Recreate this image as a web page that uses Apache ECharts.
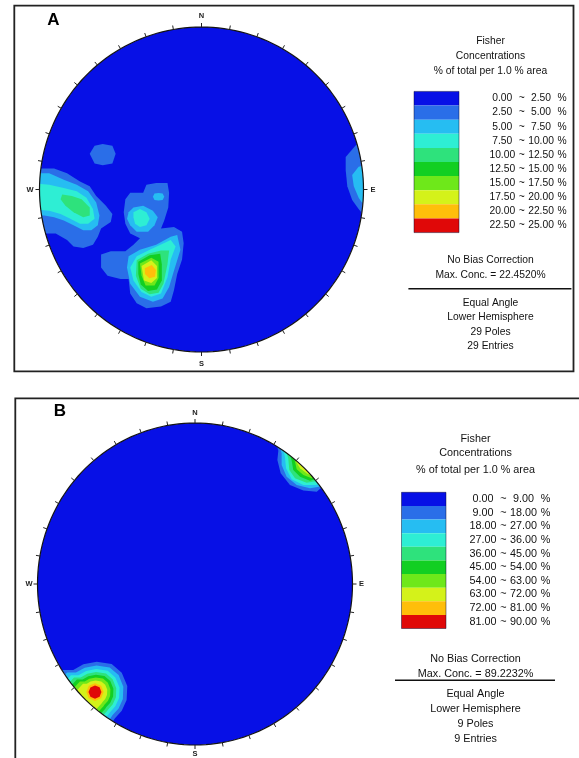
<!DOCTYPE html>
<html><head><meta charset="utf-8">
<script src="https://cdn.jsdelivr.net/npm/echarts@6/dist/echarts.min.js"></script>
<style>html,body{margin:0;padding:0;background:#fff}#c{width:579px;height:758px}</style>
</head><body><div id="c"></div>
<script>
// ---------------- data (coordinates in % of the net radius: x = east, y = north) ----------------
const breaksA = [0, 2.5, 5, 7.5, 10, 12.5, 15, 17.5, 20, 22.5, 25];
const breaksB = [0, 9, 18, 27, 36, 45, 54, 63, 72, 81, 90];
const levelColors = ['#0710e6', '#2a6ee8', '#26bdf2', '#2eeed4', '#2ee27c', '#12cf22', '#6ee81a', '#d4f21a', '#ffbe0a', '#e00808'];
const compass = ['N', 'E', 'S', 'W'];

// Panel A contours
const aWest2 = [[-106,13],[-91,13],[-83,10],[-75,5],[-69,2],[-65,-4],[-59,-10],[-55,-15],[-56,-20],[-62,-24],[-64,-29],[-67,-34],[-73,-36],[-79,-35],[-83,-31],[-90,-27],[-96,-27],[-106,-27]];
const aWest3 = [[-106,10],[-94,10],[-85,6],[-77,3],[-70,-1],[-65,-8],[-63,-16],[-64,-22],[-68,-25],[-73,-25],[-79,-22],[-85,-19],[-91,-17],[-97,-16],[-106,-16]];
const aWest4 = [[-106,4],[-94,3],[-85,1],[-77,-1],[-71,-5],[-67,-12],[-66,-18],[-70,-21],[-75,-21],[-81,-18],[-87,-15],[-94,-13],[-106,-12]];
const aWest5 = [[-86,-3],[-80,-4],[-74,-6],[-69,-11],[-69,-16],[-73,-17],[-79,-14],[-84,-10],[-87,-6]];
const aNorth2 = [[-69,22],[-66,27],[-61,28],[-55,27],[-53,22],[-55,16],[-61,15],[-66,16]];
const aCenter2 = [[-47,-6],[-44,-2],[-36,-2],[-34,3],[-28,4],[-21,4],[-20,-2],[-20.5,-11],[-23,-19],[-25,-24],[-17,-23],[-12,-26],[-11,-33],[-12,-43],[-15,-52],[-17,-62],[-19,-69],[-25,-72],[-34,-73],[-40,-70],[-44,-64],[-45,-55],[-50,-55],[-58,-53],[-62,-48],[-62,-40],[-56,-38],[-47,-38],[-42,-34],[-38,-30],[-44,-27],[-47,-21],[-48,-14]];
const aCenterUp3 = [[-45,-14],[-42,-11],[-36,-10],[-30,-13],[-27,-17],[-29,-22],[-33,-26],[-40,-26],[-44,-22],[-46,-18]];
const aCenterUp4 = [[-42,-14],[-38,-12],[-34,-14],[-32,-18],[-34,-22],[-38,-23],[-41,-21],[-42,-17]];
const aDot3 = [[-30,-4.5],[-29,-2.5],[-26.5,-2.2],[-24,-2.5],[-23,-4.5],[-24,-6.5],[-26.5,-6.7],[-29,-6.5]];
const aLow3 = [[-15,-28],[-13,-37],[-17,-50],[-20,-60],[-24,-67],[-30,-69],[-38,-66],[-44,-58],[-46,-48],[-45,-41],[-38,-37],[-28,-34],[-19,-29]];
const aLow4 = [[-40,-41],[-32,-37],[-19,-31],[-16,-35],[-19,-43],[-21,-54],[-25,-64],[-31,-66],[-37,-63],[-42,-56],[-44,-48]];
const aLow5 = [[-40,-43.5],[-33,-39.5],[-25,-37.5],[-20,-37.5],[-21,-46],[-23.5,-58],[-26.5,-63.5],[-32,-64.5],[-37.5,-61],[-40.5,-53]];
const aLow6 = [[-39,-44.5],[-32,-40.5],[-25.5,-39.5],[-24.5,-46],[-24.5,-56],[-27.5,-61.5],[-33,-62.5],[-37.5,-58.5],[-39,-52]];
const aLow7 = [[-38,-45.5],[-31,-42],[-26.5,-44.5],[-26.5,-54.5],[-29,-59],[-34.5,-59],[-37,-53]];
const aLow8 = [[-37,-47],[-31,-43.5],[-27.5,-47],[-27.5,-54.5],[-31,-57.5],[-35.5,-56]];
const aLow9 = [[-35,-48.5],[-30.7,-46.5],[-28.1,-49.5],[-28.7,-53.7],[-32.2,-54.6],[-34.9,-52]];
const aEast2 = [[104,34],[98,30.5],[95,27],[89,20],[89,12],[90,2],[93,-6.5],[97,-12],[99,-14.5],[105,-16]];
const aEast3 = [[105,17],[99,14.5],[97,14],[93,9],[94,2],[97,-5],[99,-8],[105,-9]];

// Panel B contours
const bSW2 = [[-88.9,-54.7],[-83.6,-53.4],[-77.3,-53.4],[-70.9,-49.9],[-62.4,-48.3],[-52.9,-49.7],[-46.5,-55.1],[-43.0,-63.4],[-43.4,-72.0],[-46.5,-78.7],[-50.8,-83.4],[-52.3,-85.5],[-52.7,-91.9],[-73.0,-79.5],[-87.0,-65.8]];
const bSW3 = [[-81.2,-55.0],[-75.6,-55.0],[-70.0,-52.0],[-62.5,-50.6],[-54.2,-51.8],[-48.5,-56.5],[-45.5,-63.8],[-45.8,-71.4],[-48.5,-77.3],[-52.3,-81.4],[-53.6,-83.3],[-60.5,-90.6],[-88.1,-62.3]];
const bSW4 = [[-78.8,-56.7],[-74.0,-56.7],[-69.1,-54.0],[-62.7,-52.8],[-55.4,-53.9],[-50.6,-58.0],[-47.9,-64.3],[-48.2,-70.8],[-50.6,-75.9],[-53.8,-79.5],[-55.0,-81.1],[-61.9,-88.4],[-85.7,-64.0]];
const bSW5 = [[-76.8,-58.1],[-72.6,-58.1],[-68.4,-55.7],[-62.8,-54.7],[-56.5,-55.6],[-52.3,-59.2],[-50.0,-64.7],[-50.2,-70.3],[-52.3,-74.8],[-55.1,-77.9],[-56.1,-79.2],[-63.0,-86.5],[-83.7,-65.4]];
const bSW6 = [[-75.0,-59.3],[-71.4,-59.3],[-67.7,-57.3],[-62.9,-56.4],[-57.5,-57.2],[-53.8,-60.3],[-51.8,-65.0],[-52.0,-69.9],[-53.8,-73.7],[-56.3,-76.4],[-57.1,-77.6],[-64.0,-84.9],[-81.9,-66.6]];
const bSW7 = [[-73.1,-60.5],[-70.1,-60.5],[-67.1,-58.8],[-63.0,-58.1],[-58.4,-58.7],[-55.3,-61.3],[-53.7,-65.3],[-53.9,-69.5],[-55.3,-72.7],[-57.4,-74.9],[-58.1,-75.9],[-65.0,-83.2],[-80.0,-67.8]];
const bSW8 = [[-71.1,-61.9],[-68.7,-61.9],[-66.3,-60.6],[-63.1,-60.0],[-59.5,-60.5],[-57.0,-62.5],[-55.7,-65.7],[-55.9,-69.0],[-57.0,-71.5],[-58.7,-73.3],[-59.2,-74.1],[-66.1,-81.4],[-78.0,-69.2]];
const bSW9 = [[-69,-67.1],[-67.4,-63.2],[-63.5,-61.6],[-59.6,-63.2],[-58,-67.1],[-59.6,-71],[-63.5,-72.6],[-67.4,-71]];
const bSW10 = [[-67.6,-67.1],[-66.4,-64.3],[-63.5,-63.0],[-60.6,-64.2],[-59.4,-67.1],[-60.6,-70.0],[-63.5,-71.2],[-66.4,-70.0]];
const bNE2 = [[51.6,87.4],[52.9,82.8],[52.3,77.0],[54.4,68.8],[60.3,61.5],[68.8,58.0],[77.3,57.3],[79.8,59.4],[87,63],[73,83],[57,92]];
const bNE3 = [[53.7,85.7],[55.0,81.2],[55.0,73.9],[58.2,66.6],[64.6,61.5],[73.0,59.4],[78.9,60.4],[80,61.5],[87,65],[73,83],[58,91]];
const bNE4 = [[55.9,83.9],[57.1,79.1],[57.8,71.9],[61.4,65.0],[68.8,61.5],[77.3,61.5],[78.4,63.4],[85,68],[73,83],[60,89]];
const bNE5 = [[57.8,82.6],[59.2,78.1],[59.9,70.8],[63.5,65.7],[70.9,62.9],[76.5,63.8],[84,69],[73,83],[61,87]];
const bNE6 = [[59.7,81.7],[61.3,77.0],[62.4,70.8],[66.7,66.6],[73.0,64.2],[76,65],[82,70],[73,83],[63,86]];
const bNE7 = [[62.2,80.7],[63.5,76.0],[64.6,71.2],[68.8,67.7],[74.1,65.7],[75.5,66],[80,71],[74,82],[65,85]];
const bNE8 = [[63.8,79.2],[64.6,75.3],[66.7,71.9],[70.9,68.8],[74.1,67.1],[79,72],[74,81],[67,83]];

// text
const legendTitle = ['Fisher', 'Concentrations', '% of total per 1.0 % area'];
const notesA = ['No Bias Correction', 'Max. Conc. = 22.4520%'];
const infoA = ['Equal Angle', 'Lower Hemisphere', '29 Poles', '29 Entries'];
const notesB = ['No Bias Correction', 'Max. Conc. = 89.2232%'];
const infoB = ['Equal Angle', 'Lower Hemisphere', '9 Poles', '9 Entries'];

// [level, polygon]
const contoursA = [
  [2, aWest2], [2, aNorth2], [2, aCenter2], [2, aEast2],
  [3, aWest3], [3, aCenterUp3], [3, aDot3], [3, aLow3], [3, aEast3],
  [4, aWest4], [4, aCenterUp4], [4, aLow4],
  [5, aWest5], [5, aLow5],
  [6, aLow6], [7, aLow7], [8, aLow8], [9, aLow9]
];
const contoursB = [
  [2, bSW2], [2, bNE2], [3, bSW3], [3, bNE3], [4, bSW4], [4, bNE4],
  [5, bSW5], [5, bNE5], [6, bSW6], [6, bNE6], [7, bSW7], [7, bNE7],
  [8, bSW8], [8, bNE8], [9, bSW9], [10, bSW10]
];

// ---------------- rendering ----------------
const FONT = '"Liberation Sans", Arial, sans-serif';
const chart = echarts.init(document.getElementById('c'), null, {renderer: 'canvas', width: 579, height: 758});

function rad(a) { return a * Math.PI / 180; }

function diskItem(color) {
  return function (params, api) {
    const pts = [];
    for (let a = 0; a < 360; a += 2) pts.push(api.coord([100 * Math.cos(rad(a)), 100 * Math.sin(rad(a))]));
    return {type: 'polygon', shape: {points: pts}, style: {fill: color}};
  };
}
function contourItem(list) {
  return function (params, api) {
    const pts = list[params.dataIndex][1].map(p => api.coord(p));
    return {type: 'polygon', z2: params.dataIndex, shape: {points: pts}, style: {fill: api.visual('color')}};
  };
}
function overlayItem(off) {
  return function (params, api) {
    const ch = [];
    const ring = [];
    for (let a = 90; a <= 450; a += 2) ring.push(api.coord([116 * Math.cos(rad(a)), 116 * Math.sin(rad(a))]));
    for (let a = 450; a >= 90; a -= 2) ring.push(api.coord([100 * Math.cos(rad(a)), 100 * Math.sin(rad(a))]));
    ch.push({type: 'polygon', z2: 1, shape: {points: ring}, style: {fill: '#ffffff'}});
    const circ = [];
    for (let a = 0; a < 360; a += 2) circ.push(api.coord([100 * Math.cos(rad(a)), 100 * Math.sin(rad(a))]));
    ch.push({type: 'polygon', z2: 2, shape: {points: circ}, style: {fill: 'none', stroke: '#141414', lineWidth: 1.2}});
    for (let a = 0; a < 360; a += 10) {
      const c = Math.cos(rad(a)), s = Math.sin(rad(a));
      const p = api.coord([100 * c, 100 * s]);
      ch.push({type: 'line', z2: 3, shape: {x1: p[0], y1: p[1], x2: p[0] + 4 * c, y2: p[1] - 4 * s}, style: {stroke: '#222', lineWidth: 1}});
    }
    const dirs = [[0, 100, 0, -off.n], [100, 0, off.e, 0], [0, -100, 0, off.s], [-100, 0, -off.w, 0]];
    dirs.forEach((d, i) => {
      const p = api.coord([d[0], d[1]]);
      ch.push({type: 'text', z2: 4, x: p[0] + d[2], y: p[1] + d[3],
        style: {text: compass[i], fill: '#222', font: 'bold 7.5px ' + FONT, align: 'center', verticalAlign: 'middle', textAlign: 'center', textVerticalAlign: 'middle'}});
    });
    return {type: 'group', children: ch};
  };
}

function pieces(breaks) {
  const out = [];
  for (let i = 0; i < breaks.length - 1; i++) {
    out.push({min: breaks[i], max: breaks[i + 1], color: levelColors[i],
      label: '{a|' + breaks[i].toFixed(2) + '} ~ {b|' + breaks[i + 1].toFixed(2) + '} %'});
  }
  return out;
}
function levelData(list, breaks) {
  return list.map(c => [0, 0, (breaks[c[0] - 1] + breaks[c[0]]) / 2]);
}
function vmap(idx, breaks, left, top, w, h, gap, fs, boxW) {
  const rs = {width: boxW, align: 'right', fontSize: fs, fontFamily: FONT, color: '#111'};
  return {type: 'piecewise', seriesIndex: idx, dimension: 2, pieces: pieces(breaks), inverse: true,
    orient: 'vertical', align: 'left', left: left, top: top, padding: 0, itemWidth: w, itemHeight: h, itemGap: 0,
    itemSymbol: 'rect', textGap: gap, hoverLink: false, selectedMode: false,
    textStyle: {fontSize: fs, fontFamily: FONT, color: '#111', rich: {a: rs, b: rs}}};
}

function txt(x, y, t, fs, extra) {
  return Object.assign({type: 'text', x: x, y: y, z: 100,
    style: {text: t, fill: '#111', font: fs + 'px ' + FONT, align: 'center', verticalAlign: 'middle', textAlign: 'center', textVerticalAlign: 'middle'}}, extra || {});
}

const graphics = [];
// panel frames
graphics.push({type: 'rect', z: 100, shape: {x: 14.3, y: 5.7, width: 559.2, height: 365.7}, style: {fill: 'none', stroke: '#222', lineWidth: 1.8}});
graphics.push({type: 'polyline', z: 100, shape: {points: [[15.3, 760], [15.3, 398.3], [582, 398.3]]}, style: {fill: 'none', stroke: '#222', lineWidth: 1.8}});
graphics.push({type: 'text', x: 53.5, y: 20, z: 100, style: {text: 'A', fill: '#000', font: 'bold 17px ' + FONT, align: 'center', verticalAlign: 'middle', textAlign: 'center', textVerticalAlign: 'middle'}});
graphics.push({type: 'text', x: 60, y: 411.5, z: 100, style: {text: 'B', fill: '#000', font: 'bold 17px ' + FONT, align: 'center', verticalAlign: 'middle', textAlign: 'center', textVerticalAlign: 'middle'}});
// legend A
[41.5, 56.5, 70.8].forEach((y, i) => graphics.push(txt(490.5, y, legendTitle[i], 10.3)));
[260.5, 275.2].forEach((y, i) => graphics.push(txt(490.5, y, notesA[i], 10.3)));
graphics.push({type: 'line', z: 100, shape: {x1: 408.4, y1: 288.7, x2: 571.4, y2: 288.7}, style: {stroke: '#111', lineWidth: 1.5}});
[303, 317, 332, 346].forEach((y, i) => graphics.push(txt(490.5, y, infoA[i], 10.3)));
graphics.push({type: 'rect', z: 100, shape: {x: 414, y: 91.4, width: 45, height: 141.2}, style: {fill: 'none', stroke: 'rgba(0,0,40,0.45)', lineWidth: 1}});
// legend B
[438.7, 453.5, 469.8].forEach((y, i) => graphics.push(txt(475.5, y, legendTitle[i], 10.8)));
[659, 674].forEach((y, i) => graphics.push(txt(475.5, y, notesB[i], 10.8)));
graphics.push({type: 'line', z: 100, shape: {x1: 395, y1: 680.3, x2: 555, y2: 680.3}, style: {stroke: '#111', lineWidth: 1.5}});
[694.5, 709.3, 724.3, 739.2].forEach((y, i) => graphics.push(txt(475.5, y, infoB[i], 10.8)));
graphics.push({type: 'rect', z: 100, shape: {x: 401.5, y: 492.3, width: 44.5, height: 136.2}, style: {fill: 'none', stroke: 'rgba(0,0,40,0.45)', lineWidth: 1}});

const axisBase = {type: 'value', min: -100, max: 100, show: false};
chart.setOption({
  animation: false,
  backgroundColor: '#ffffff',
  grid: [
    {left: 39.5, top: 27, width: 324, height: 325},
    {left: 37.5, top: 423, width: 315, height: 322}
  ],
  xAxis: [Object.assign({gridIndex: 0}, axisBase), Object.assign({gridIndex: 1}, axisBase)],
  yAxis: [Object.assign({gridIndex: 0}, axisBase), Object.assign({gridIndex: 1}, axisBase)],
  visualMap: [
    vmap(1, breaksA, 414, 91.4, 45, 14.12, 29.8, 10.3, 27),
    vmap(4, breaksB, 401.5, 492.3, 44.5, 13.62, 23, 10.8, 28.2)
  ],
  series: [
    {type: 'custom', xAxisIndex: 0, yAxisIndex: 0, z: 2, silent: true, data: [[0, 0]], renderItem: diskItem(levelColors[0])},
    {type: 'custom', xAxisIndex: 0, yAxisIndex: 0, z: 3, silent: true, data: levelData(contoursA, breaksA), renderItem: contourItem(contoursA)},
    {type: 'custom', xAxisIndex: 0, yAxisIndex: 0, z: 5, silent: true, data: [[0, 0]], renderItem: overlayItem({n: 11, s: 12, e: 9.5, w: 9.5})},
    {type: 'custom', xAxisIndex: 1, yAxisIndex: 1, z: 2, silent: true, data: [[0, 0]], renderItem: diskItem(levelColors[0])},
    {type: 'custom', xAxisIndex: 1, yAxisIndex: 1, z: 3, silent: true, data: levelData(contoursB, breaksB), renderItem: contourItem(contoursB)},
    {type: 'custom', xAxisIndex: 1, yAxisIndex: 1, z: 5, silent: true, data: [[0, 0]], renderItem: overlayItem({n: 10, s: 8.5, e: 9, w: 8.5})}
  ],
  graphic: graphics
});
</script>
</body></html>
